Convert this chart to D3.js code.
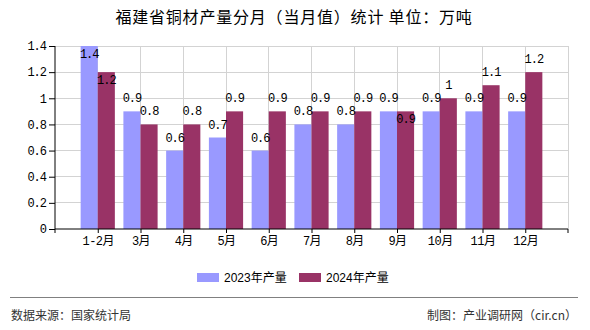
<!DOCTYPE html>
<html><head><meta charset="utf-8">
<script src="https://cdn.jsdelivr.net/npm/d3@7"></script>
<style>
body{margin:0;background:#fff;}
svg{display:block;}
</style></head>
<body>
<svg id="c" width="590" height="330"></svg>
<script>
const categories = ["1-2月","3月","4月","5月","6月","7月","8月","9月","10月","11月","12月"];
const values2023 = [1.4,0.9,0.6,0.7,0.6,0.8,0.8,0.9,0.9,0.9,0.9];
const values2024 = [1.2,0.8,0.8,0.9,0.9,0.9,0.9,0.9,1,1.1,1.2];
const seriesNames = ["2023年产量","2024年产量"];
const yTicks = [0,0.2,0.4,0.6,0.8,1,1.2,1.4];
const title = "福建省铜材产量分月（当月值）统计 单位：万吨";
const sourceText = "数据来源：国家统计局";
const makerText = "制图：产业调研网（cir.cn）";

const colors = ["#9999ff","#993366"];
const numFont = "'Liberation Mono','Noto Sans CJK SC',monospace";
const cjkFont = "'Noto Sans CJK SC','Liberation Sans',sans-serif";

const svg = d3.select("#c");
const L = 55, R = 568, T = 46, B = 229;

const x = d3.scalePoint().domain(categories).range([L, R]).padding(1);
const y = d3.scaleLinear().domain([0, 1.4]).range([B, T]);
const bw = x.step() * 0.4;

// title
svg.append("text").attr("x", 294).attr("y", 23).attr("text-anchor","middle")
  .attr("font-family", cjkFont).attr("font-size", 16).attr("letter-spacing", 0.8).attr("fill","#000")
  .text(title);

// grid
const g = svg.append("g");
g.selectAll("line.h").data(yTicks.slice(1)).join("line")
  .attr("x1", L).attr("x2", R).attr("y1", d => y(d)).attr("y2", d => y(d))
  .attr("stroke", "#d3d3d3").attr("stroke-width", 1).attr("shape-rendering","crispEdges");
g.selectAll("line.v").data(categories).join("line")
  .attr("x1", d => x(d)).attr("x2", d => x(d)).attr("y1", T).attr("y2", B)
  .attr("stroke", "#d3d3d3").attr("shape-rendering","crispEdges");
g.append("line").attr("x1", R).attr("x2", R).attr("y1", T).attr("y2", B)
  .attr("stroke", "#d3d3d3").attr("shape-rendering","crispEdges");

// bars
const series = [values2023, values2024];
series.forEach((vals, si) => {
  svg.append("g").selectAll("rect").data(vals).join("rect")
    .attr("x", (d,i) => x(categories[i]) + (si === 0 ? -bw : 0))
    .attr("width", bw)
    .attr("y", d => y(d))
    .attr("height", d => B - y(d))
    .attr("fill", colors[si]);
});

// value labels with simple collision handling
const lbl = svg.append("g").attr("font-family", numFont).attr("font-size", 12)
  .attr("letter-spacing", -1).attr("text-anchor","middle").attr("fill","#000");
categories.forEach((c, i) => {
  const t1 = y(values2023[i]), t2 = y(values2024[i]);
  let c1 = t1 - 13;
  if (c1 - 5 < T) c1 = t1 + 8;
  let c2 = t2 - 13;
  if (Math.abs(c2 - c1) < 12) c2 = t2 + 8;
  lbl.append("text").attr("x", x(c) - bw/2).attr("y", c1 + 4).text(String(values2023[i]));
  lbl.append("text").attr("x", x(c) + bw/2).attr("y", c2 + 4).text(String(values2024[i]));
});

// axes
const yAxis = d3.axisLeft(y).tickValues(yTicks).tickSize(6).tickPadding(3)
  .tickFormat(d => String(d));
const ya = svg.append("g").attr("transform", `translate(${L},0)`).call(yAxis);
ya.select(".domain").attr("stroke","#000").attr("d", `M0,${T}V${B}`);
ya.selectAll("text").attr("font-family", numFont).attr("font-size", 12).attr("letter-spacing", -1).attr("fill","#000");
ya.selectAll("line").attr("stroke","#000");

const xAxis = d3.axisBottom(x).tickSize(4).tickPadding(3);
const xa = svg.append("g").attr("transform", `translate(0,${B})`).call(xAxis);
xa.select(".domain").attr("stroke","#000").attr("d", `M${L},4V0H${R}V4`);
xa.selectAll("line").attr("stroke","#000");
xa.selectAll("text").attr("font-family", numFont).attr("font-size", 12).attr("letter-spacing", -0.5).attr("fill","#000");

// legend
const leg = svg.append("g");
const legX = [197, 299];
seriesNames.forEach((n, i) => {
  leg.append("rect").attr("x", legX[i]).attr("y", 273).attr("width", 22).attr("height", 9).attr("fill", colors[i]);
  leg.append("text").attr("x", legX[i] + 27).attr("y", 282)
    .attr("font-family", "'Liberation Sans','Noto Sans CJK SC',sans-serif").attr("font-size", 12)
    .attr("fill","#000").text(n);
});

// footer
svg.append("line").attr("x1", 10).attr("x2", 578).attr("y1", 297.5).attr("y2", 297.5)
  .attr("stroke", "#808080").attr("stroke-width", 1);
svg.append("text").attr("x", 11).attr("y", 320).attr("font-family", cjkFont).attr("font-size", 12)
  .attr("fill","#333").text(sourceText);
svg.append("text").attr("x", 577).attr("y", 320).attr("text-anchor","end").attr("font-family", cjkFont).attr("font-size", 12)
  .attr("fill","#333").text(makerText);
</script>
</body></html>
